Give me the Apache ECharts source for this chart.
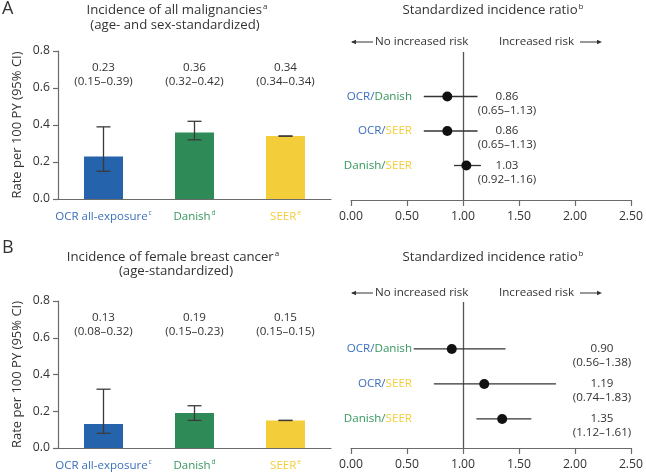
<!DOCTYPE html>
<html>
<head>
<meta charset="utf-8">
<script src="https://cdn.jsdelivr.net/npm/echarts@6/dist/echarts.min.js"></script>
<style>html,body{margin:0;padding:0;background:#fff}#c{width:646px;height:475px}</style>
</head>
<body>
<div id="c"></div>
<script>
// ---------- data ----------
const categories = ['OCR all-exposure', 'Danish', 'SEER'];
const categorySup = ['c', 'd', 'e'];
const rateA = [0.23, 0.36, 0.34];
const rateLowA = [0.15, 0.32, 0.34];
const rateHighA = [0.39, 0.42, 0.34];
const rateB = [0.13, 0.19, 0.15];
const rateLowB = [0.08, 0.15, 0.15];
const rateHighB = [0.32, 0.23, 0.15];
const sirRows = [['OCR', 'Danish'], ['OCR', 'SEER'], ['Danish', 'SEER']];
const sirA = [0.86, 0.86, 1.03];
const sirLowA = [0.65, 0.65, 0.92];
const sirHighA = [1.13, 1.13, 1.16];
const sirB = [0.90, 1.19, 1.35];
const sirLowB = [0.56, 0.74, 1.12];
const sirHighB = [1.38, 1.83, 1.61];
const rateTicks = [0, 0.2, 0.4, 0.6, 0.8];
const sirTicks = [0, 0.5, 1.0, 1.5, 2.0, 2.5];

// ---------- styles ----------
const FONT = 'Open Sans';
const TXT = '#333';
const AX = '#6b6b6b';
const FS = 11.6;
const colorOf = { 'OCR': '#3a6fbd', 'Danish': '#36975e', 'SEER': '#f4cd3c' };
const barColors = ['#2563ad', '#2e8b57', '#f4cd3a'];
const labelColors = ['#3a6fbd', '#36975e', '#f4cd3c'];

const chart = echarts.init(document.getElementById('c'), null, { renderer: 'canvas' });

const grids = [
  { left: 58, top: 51, width: 273, height: 148 },
  { left: 351, top: 52, width: 282, height: 148 },
  { left: 58, top: 301, width: 273, height: 147 },
  { left: 351, top: 302, width: 282, height: 146 }
];

function supStyle(c) {
  return { color: c, fontFamily: FONT, fontSize: 6.5, verticalAlign: 'top', padding: [0, 0, 6, 1] };
}
function barXAxis(gi) {
  return {
    type: 'category', gridIndex: gi, data: categories,
    axisLine: { lineStyle: { color: AX, width: 1.2 } },
    axisTick: { alignWithLabel: true, length: 6, lineStyle: { color: AX, width: 1.2 } },
    axisLabel: {
      interval: 0, margin: 11, hideOverlap: false,
      formatter: function (v, i) { return '{c' + i + '|' + v + '}{s' + i + '|' + categorySup[i] + '}'; },
      rich: {
        c0: { color: labelColors[0], fontFamily: FONT, fontSize: 11.5 },
        c1: { color: labelColors[1], fontFamily: FONT, fontSize: 11.5 },
        c2: { color: labelColors[2], fontFamily: FONT, fontSize: 11.5 },
        s0: supStyle(labelColors[0]), s1: supStyle(labelColors[1]), s2: supStyle(labelColors[2])
      }
    }
  };
}
function barYAxis(gi) {
  return {
    type: 'value', gridIndex: gi, min: rateTicks[0], max: rateTicks[rateTicks.length - 1], interval: 0.2,
    name: 'Rate per 100 PY (95% CI)', nameLocation: 'middle', nameGap: 34,
    nameTextStyle: { fontFamily: FONT, fontSize: 13, color: TXT },
    axisLine: { show: true, lineStyle: { color: AX, width: 1.2 } },
    axisTick: { show: true, length: 5, lineStyle: { color: AX, width: 1.2 } },
    splitLine: { show: false },
    axisLabel: { margin: 8, fontFamily: FONT, fontSize: 12.2, color: TXT, formatter: v => v.toFixed(1) }
  };
}
function sirXAxis(gi) {
  return {
    type: 'value', gridIndex: gi, min: sirTicks[0], max: sirTicks[sirTicks.length - 1], interval: 0.5,
    axisLine: { show: true, lineStyle: { color: AX, width: 1.2 } },
    axisTick: { show: true, length: 6, lineStyle: { color: AX, width: 1.2 } },
    splitLine: { show: false },
    axisLabel: { margin: 11, fontFamily: FONT, fontSize: 12.2, color: TXT, formatter: v => v.toFixed(2) }
  };
}
function sirYAxis(gi, mn, mx) {
  return { type: 'value', gridIndex: gi, min: mn, max: mx, show: false, splitLine: { show: false } };
}

function errSeries(gi, rate, lo, hi) {
  return {
    type: 'custom', xAxisIndex: gi, yAxisIndex: gi, z: 5,
    data: rate.map((v, i) => [i, v, lo[i], hi[i]]),
    renderItem: function (params, api) {
      const i = api.value(0);
      const top = api.coord([i, api.value(3)]);
      const bot = api.coord([i, api.value(2)]);
      const cs = params.coordSys;
      const w = 7;
      const st = { stroke: '#3a3a3a', lineWidth: 1.3 };
      const txt = api.value(1).toFixed(2) + '\n(' + api.value(2).toFixed(2) + '–' + api.value(3).toFixed(2) + ')';
      return {
        type: 'group', children: [
          { type: 'line', shape: { x1: top[0], y1: top[1], x2: bot[0], y2: bot[1] }, style: st },
          { type: 'line', shape: { x1: top[0] - w, y1: top[1], x2: top[0] + w, y2: top[1] }, style: st },
          { type: 'line', shape: { x1: bot[0] - w, y1: bot[1], x2: bot[0] + w, y2: bot[1] }, style: st },
          { type: 'text', style: { text: txt, x: top[0], y: cs.y + 10, align: 'center', verticalAlign: 'top',
            fontFamily: FONT, fontSize: FS, lineHeight: 13.5, fill: TXT } }
        ]
      };
    }
  };
}

function forestSeries(gi, est, lo, hi, valX) {
  return {
    type: 'custom', xAxisIndex: gi, yAxisIndex: gi, z: 5,
    data: est.map((v, i) => [3 - i, v, lo[i], hi[i]]),
    renderItem: function (params, api) {
      const idx = params.dataIndex;
      const row = api.value(0);
      const pL = api.coord([api.value(2), row]);
      const pH = api.coord([api.value(3), row]);
      const pE = api.coord([api.value(1), row]);
      const cs = params.coordSys;
      const pair = sirRows[idx];
      const txt = api.value(1).toFixed(2) + '\n(' + api.value(2).toFixed(2) + '–' + api.value(3).toFixed(2) + ')';
      return {
        type: 'group', children: [
          { type: 'line', shape: { x1: pL[0], y1: pL[1], x2: pH[0], y2: pH[1] }, style: { stroke: '#333', lineWidth: 1.3 } },
          { type: 'circle', shape: { cx: pE[0], cy: pE[1], r: 5 }, style: { fill: '#111' } },
          { type: 'text', style: {
              text: '{a|' + pair[0] + '/}{b|' + pair[1] + '}', x: cs.x + 61, y: pE[1], align: 'right', verticalAlign: 'middle',
              rich: {
                a: { fill: colorOf[pair[0]], fontFamily: FONT, fontSize: FS },
                b: { fill: colorOf[pair[1]], fontFamily: FONT, fontSize: FS }
              } } },
          { type: 'text', style: { text: txt, x: cs.x + valX, y: pE[1] - 7, align: 'center', verticalAlign: 'top',
            fontFamily: FONT, fontSize: FS, lineHeight: 14, fill: TXT } }
        ]
      };
    }
  };
}

function refLine(gi) {
  return {
    type: 'line', xAxisIndex: gi, yAxisIndex: gi, data: [], silent: true,
    markLine: { symbol: 'none', silent: true, label: { show: false },
      lineStyle: { color: '#555', type: 'solid', width: 1.3 }, data: [{ xAxis: 1 }] }
  };
}

function titleLine(x, y, txt, sup) {
  return {
    type: 'text', x: x, y: y,
    style: {
      text: sup ? '{t|' + txt + '}{s|' + sup + '}' : '{t|' + txt + '}',
      align: 'center', verticalAlign: 'middle',
      rich: {
        t: { fontFamily: FONT, fontSize: 13.2, fill: TXT },
        s: { fontFamily: FONT, fontSize: 8, fill: TXT, verticalAlign: 'top', padding: [0, 0, 6, 1] }
      }
    }
  };
}
function arrows(y) {
  const st = { stroke: '#333', lineWidth: 1 };
  return [
    { type: 'line', shape: { x1: 352, y1: y, x2: 373, y2: y }, style: st },
    { type: 'polygon', shape: { points: [[351, y], [356, y - 2.2], [356, y + 2.2]] }, style: { fill: '#333' } },
    { type: 'text', x: 375, y: y, style: { text: 'No increased risk', fontFamily: FONT, fontSize: FS, fill: TXT, verticalAlign: 'middle' } },
    { type: 'text', x: 499, y: y, style: { text: 'Increased risk', fontFamily: FONT, fontSize: FS, fill: TXT, verticalAlign: 'middle' } },
    { type: 'line', shape: { x1: 580, y1: y, x2: 600, y2: y }, style: st },
    { type: 'polygon', shape: { points: [[602, y], [597, y - 2.2], [597, y + 2.2]] }, style: { fill: '#333' } }
  ];
}

const option = {
  animation: false,
  backgroundColor: '#fff',
  grid: grids,
  xAxis: [barXAxis(0), sirXAxis(1), barXAxis(2), sirXAxis(3)],
  yAxis: [barYAxis(0), sirYAxis(1, 0, 4.29), barYAxis(2), sirYAxis(3, 0.17, 4.34)],
  series: [
    { type: 'bar', xAxisIndex: 0, yAxisIndex: 0, barWidth: 39,
      data: rateA.map((v, i) => ({ value: v, itemStyle: { color: barColors[i] } })) },
    errSeries(0, rateA, rateLowA, rateHighA),
    refLine(1),
    forestSeries(1, sirA, sirLowA, sirHighA, 156),
    { type: 'bar', xAxisIndex: 2, yAxisIndex: 2, barWidth: 39,
      data: rateB.map((v, i) => ({ value: v, itemStyle: { color: barColors[i] } })) },
    errSeries(2, rateB, rateLowB, rateHighB),
    refLine(3),
    forestSeries(3, sirB, sirLowB, sirHighB, 251)
  ],
  graphic: [
    { type: 'text', x: 2, y: 0, style: { text: 'A', fontFamily: FONT, fontSize: 18, fill: TXT } },
    { type: 'text', x: 2, y: 239, style: { text: 'B', fontFamily: FONT, fontSize: 18, fill: TXT } },
    titleLine(177, 10, 'Incidence of all malignancies', 'a'),
    titleLine(175, 25, '(age- and sex-standardized)', null),
    titleLine(493, 10, 'Standardized incidence ratio', 'b'),
    titleLine(173, 257, 'Incidence of female breast cancer', 'a'),
    titleLine(176, 271, '(age-standardized)', null),
    titleLine(493, 257, 'Standardized incidence ratio', 'b')
  ].concat(arrows(42), arrows(293))
};
chart.setOption(option);
</script>
</body>
</html>
